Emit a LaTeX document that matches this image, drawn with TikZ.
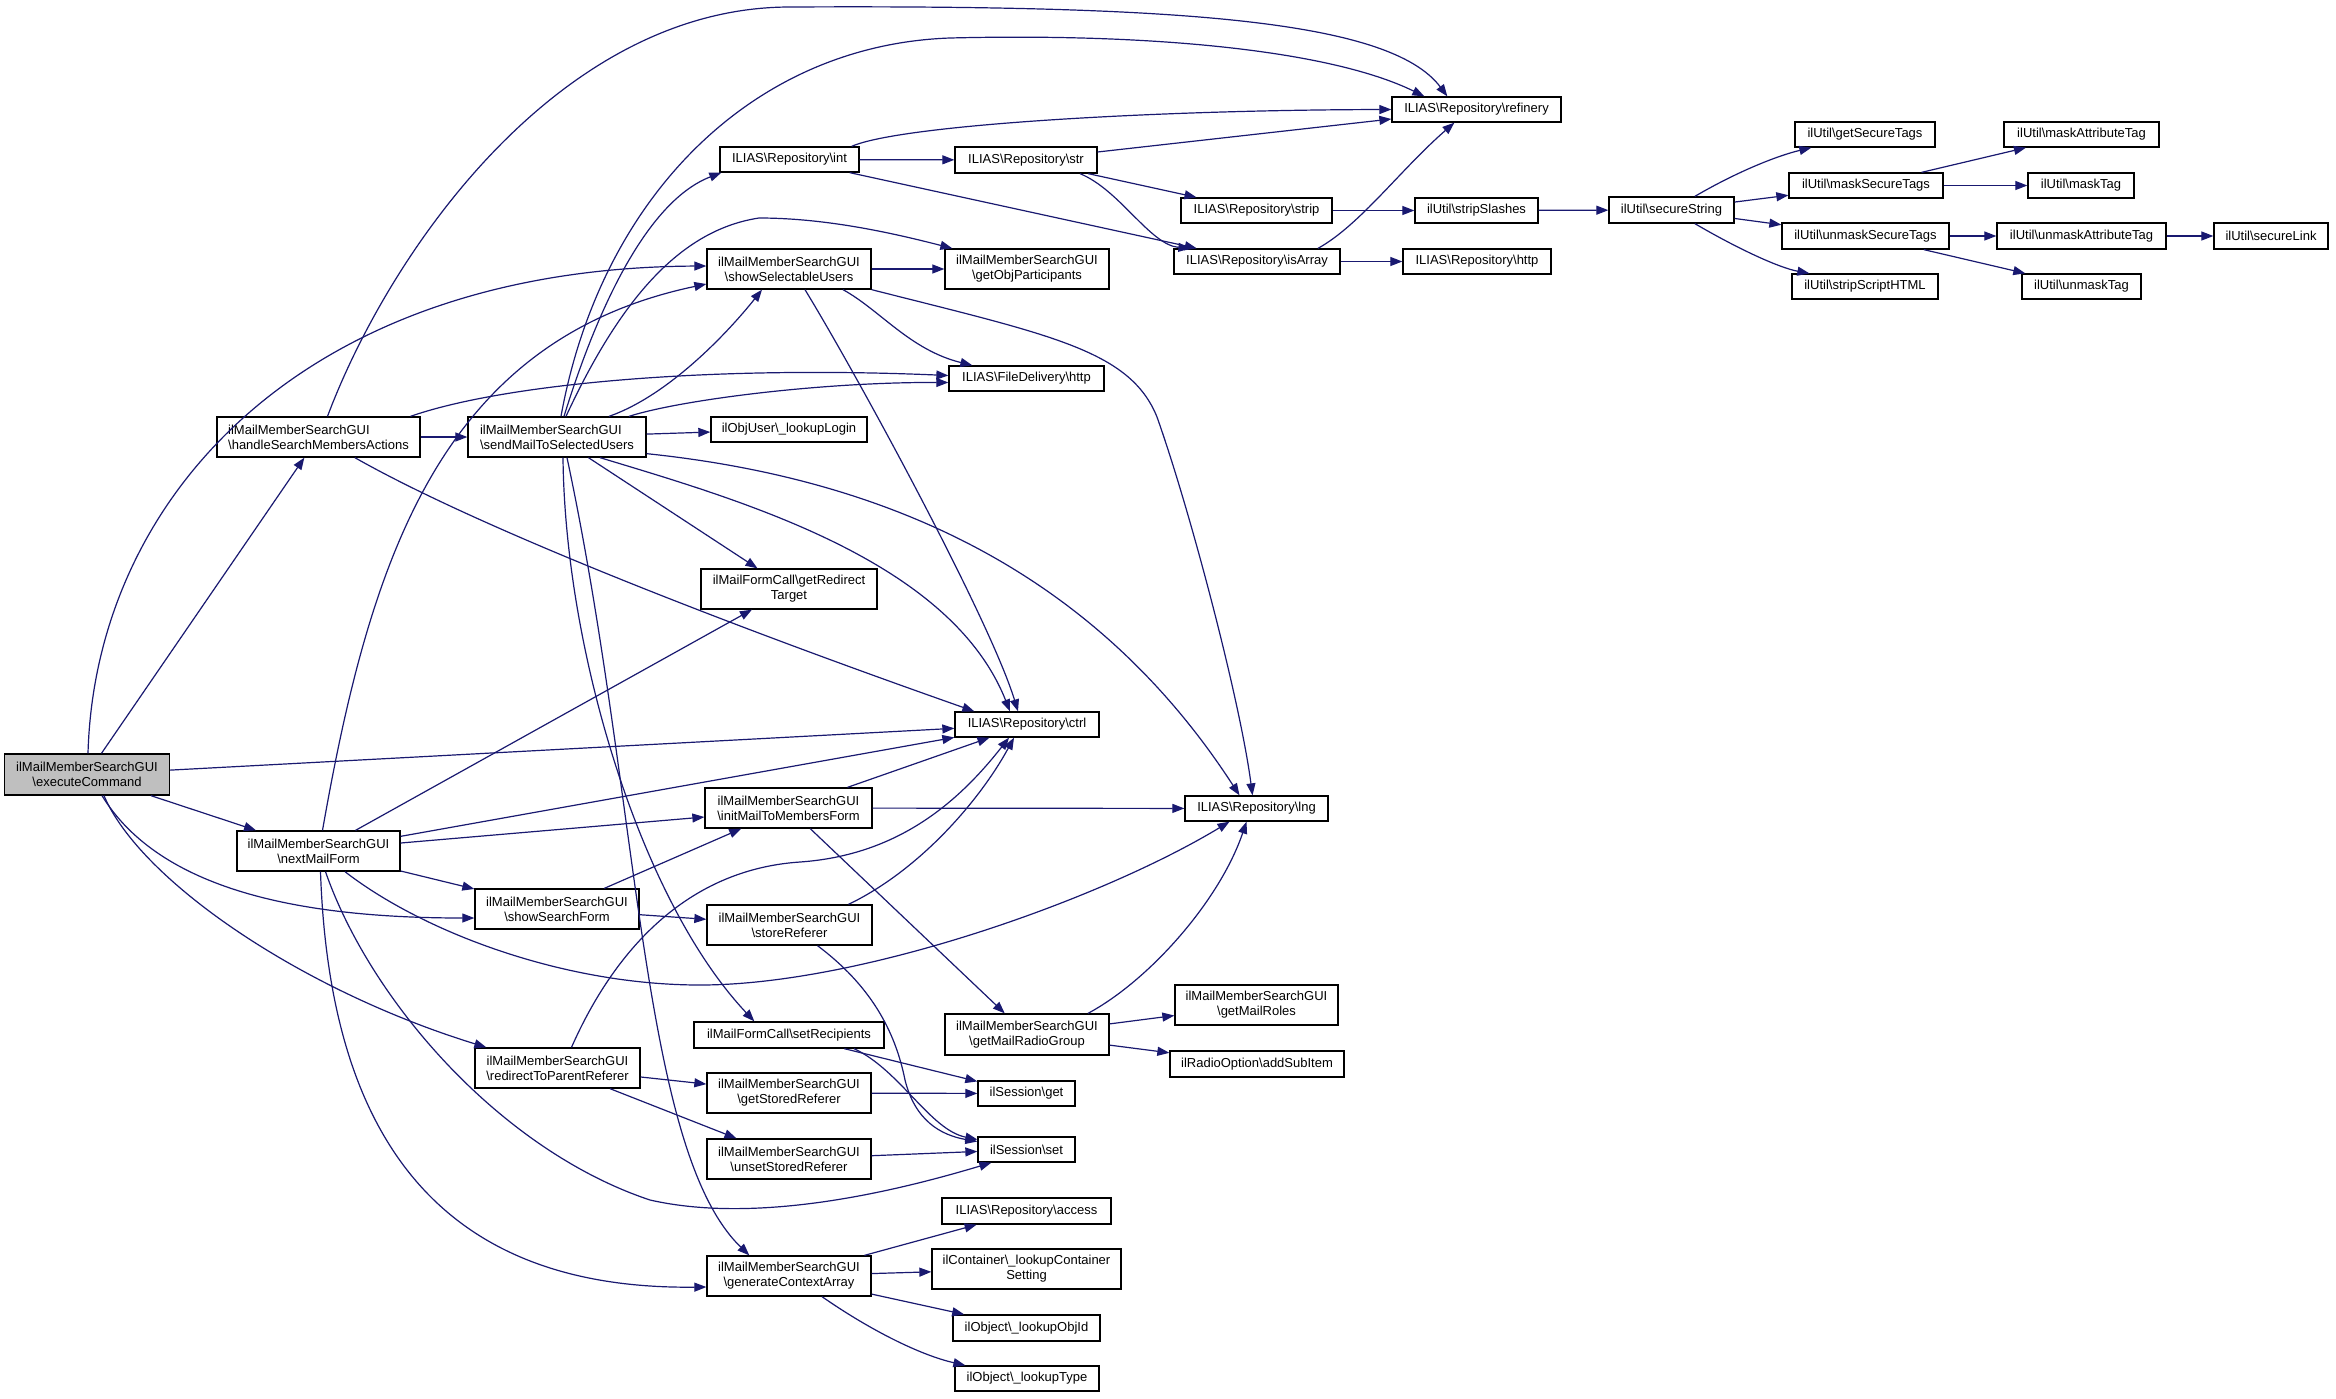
\documentclass[tikz,border=0pt]{standalone}
\usepackage{fontspec}
\setmainfont{Liberation Sans}
\usetikzlibrary{arrows.meta,calc}
\definecolor{edgeblue}{HTML}{191970}
\definecolor{exfill}{HTML}{BFBFBF}
\newcommand{\bsl}{\textbackslash}
\begin{document}
\begin{tikzpicture}[x=1pt,y=-1pt,
  box/.style={draw=black,line width=1.3pt,fill=white,inner sep=0pt,align=center,font=\fontsize{13}{15}\selectfont},
  edge/.style={draw=edgeblue,line width=1.2pt,-{Triangle[length=12pt,width=9pt]}}]
\fill[white] (0,0) rectangle (2336,1398);
\useasboundingbox (0,0) rectangle (2336,1398);
% nodes
\node[box,fill=exfill,minimum width=165pt,minimum height=41pt] (ex) at (87,774.5) {ilMailMemberSearchGUI\\\bsl executeCommand};
\node[box,align=left,minimum width=203pt,minimum height=40pt] (hs) at (318.5,437) {ilMailMemberSearchGUI\\\bsl handleSearchMembersActions};
\node[box,align=left,minimum width=178pt,minimum height=40pt] (sm) at (557,437) {ilMailMemberSearchGUI\\\bsl sendMailToSelectedUsers};
\node[box,minimum width=163pt,minimum height=40pt] (nm) at (318.5,851) {ilMailMemberSearchGUI\\\bsl nextMailForm};
\node[box,minimum width=164pt,minimum height=40pt] (ssf) at (557,909) {ilMailMemberSearchGUI\\\bsl showSearchForm};
\node[box,minimum width=165pt,minimum height=40pt] (rp) at (557.5,1068) {ilMailMemberSearchGUI\\\bsl redirectToParentReferer};
\node[box,minimum width=139pt,minimum height=25pt] (int) at (789.5,159.5) {ILIAS\bsl Repository\bsl int};
\node[box,minimum width=164pt,minimum height=40pt] (ssu) at (789,269) {ilMailMemberSearchGUI\\\bsl showSelectableUsers};
\node[box,minimum width=156pt,minimum height=25pt] (ll) at (789,429.5) {ilObjUser\bsl\_lookupLogin};
\node[box,minimum width=169pt,minimum height=25pt] (ref) at (1476.5,109.5) {ILIAS\bsl Repository\bsl refinery};
\node[box,minimum width=142pt,minimum height=26pt] (str) at (1026,160) {ILIAS\bsl Repository\bsl str};
\node[box,minimum width=151pt,minimum height=25pt] (strip) at (1256.5,210.5) {ILIAS\bsl Repository\bsl strip};
\node[box,minimum width=123pt,minimum height=25pt] (ss) at (1476.5,210.5) {ilUtil\bsl stripSlashes};
\node[box,minimum width=166pt,minimum height=25pt] (isa) at (1257,261.5) {ILIAS\bsl Repository\bsl isArray};
\node[box,minimum width=148pt,minimum height=25pt] (rh) at (1477,261.5) {ILIAS\bsl Repository\bsl http};
\node[box,minimum width=164pt,minimum height=40pt] (gop) at (1027,269) {ilMailMemberSearchGUI\\\bsl getObjParticipants};
\node[box,minimum width=155pt,minimum height=25pt] (fd) at (1026.5,378.5) {ILIAS\bsl FileDelivery\bsl http};
\node[box,minimum width=125pt,minimum height=26pt] (sec) at (1671.5,210) {ilUtil\bsl secureString};
\node[box,minimum width=140pt,minimum height=25pt] (gst) at (1865,134.5) {ilUtil\bsl getSecureTags};
\node[box,minimum width=154pt,minimum height=25pt] (mst) at (1866,185.5) {ilUtil\bsl maskSecureTags};
\node[box,minimum width=167pt,minimum height=26pt] (umst) at (1865.5,236) {ilUtil\bsl unmaskSecureTags};
\node[box,minimum width=146pt,minimum height=25pt] (ssh) at (1865,286.5) {ilUtil\bsl stripScriptHTML};
\node[box,minimum width=155pt,minimum height=25pt] (mat) at (2081.5,134.5) {ilUtil\bsl maskAttributeTag};
\node[box,minimum width=106pt,minimum height=25pt] (mt) at (2081,185.5) {ilUtil\bsl maskTag};
\node[box,minimum width=169pt,minimum height=26pt] (umat) at (2081.5,236) {ilUtil\bsl unmaskAttributeTag};
\node[box,minimum width=114pt,minimum height=26pt] (sl) at (2271,236) {ilUtil\bsl secureLink};
\node[box,minimum width=119pt,minimum height=25pt] (umt) at (2081.5,286.5) {ilUtil\bsl unmaskTag};
\node[box,minimum width=176pt,minimum height=40pt] (grt) at (789,589) {ilMailFormCall\bsl getRedirect\\Target};
\node[box,minimum width=144pt,minimum height=25pt] (ctrl) at (1027,724.5) {ILIAS\bsl Repository\bsl ctrl};
\node[box,minimum width=167pt,minimum height=40pt] (imf) at (788.5,808) {ilMailMemberSearchGUI\\\bsl initMailToMembersForm};
\node[box,minimum width=143pt,minimum height=25pt] (lng) at (1256.5,808.5) {ILIAS\bsl Repository\bsl lng};
\node[box,minimum width=165pt,minimum height=40pt] (sr) at (789.5,925) {ilMailMemberSearchGUI\\\bsl storeReferer};
\node[box,minimum width=190pt,minimum height=26pt] (srec) at (789,1035) {ilMailFormCall\bsl setRecipients};
\node[box,minimum width=164pt,minimum height=41pt] (gmrg) at (1027,1034.5) {ilMailMemberSearchGUI\\\bsl getMailRadioGroup};
\node[box,minimum width=163pt,minimum height=40pt] (gmr) at (1256.5,1005) {ilMailMemberSearchGUI\\\bsl getMailRoles};
\node[box,minimum width=174pt,minimum height=26pt] (asi) at (1257,1064) {ilRadioOption\bsl addSubItem};
\node[box,minimum width=164pt,minimum height=40pt] (gsr) at (789,1093) {ilMailMemberSearchGUI\\\bsl getStoredReferer};
\node[box,minimum width=97pt,minimum height=25pt] (sg) at (1026.5,1093.5) {ilSession\bsl get};
\node[box,minimum width=164pt,minimum height=40pt] (usr) at (789,1159) {ilMailMemberSearchGUI\\\bsl unsetStoredReferer};
\node[box,minimum width=97pt,minimum height=25pt] (sset) at (1026.5,1149.5) {ilSession\bsl set};
\node[box,minimum width=169pt,minimum height=26pt] (acc) at (1026.5,1211) {ILIAS\bsl Repository\bsl access};
\node[box,minimum width=189pt,minimum height=40pt] (lcs) at (1026.5,1269) {ilContainer\bsl\_lookupContainer\\Setting};
\node[box,minimum width=164pt,minimum height=40pt] (gca) at (789,1276) {ilMailMemberSearchGUI\\\bsl generateContextArray};
\node[box,minimum width=147pt,minimum height=26pt] (loi) at (1026.5,1328) {ilObject\bsl\_lookupObjId};
\node[box,minimum width=144pt,minimum height=25pt] (lot) at (1027,1378.5) {ilObject\bsl\_lookupType};
% executeCommand
\draw[edge] (ex) -- (hs);
\draw[edge] ($(ex.north)+(1,0)$) .. controls (95,500) and (300,268) .. ($(ssu.west)+(0,-3)$);
\draw[edge] (ex) -- (ctrl);
\draw[edge] (ex) -- (nm);
\draw[edge] ($(ex.south)+(15,0)$) .. controls (160,890) and (300,918) .. ($(ssf.west)+(0,9)$);
\draw[edge] ($(ex.south)+(17,0)$) .. controls (140,880) and (300,990) .. ($(rp.north west)+(12,0)$);
% handleSearchMembersActions
\draw[edge] ($(hs.north)+(9,0)$) .. controls (390,250) and (560,7) .. (790,7) .. controls (1180,5) and (1390,20) .. ($(ref.north west)+(56,0)$);
\draw[edge] (hs) -- (sm);
\draw[edge] ($(hs.north)+(92,0)$) .. controls (500,385) and (700,365) .. ($(fd.west)+(0,-3)$);
\draw[edge] (hs) .. controls (500,540) and (800,650) .. ($(ctrl.north west)+(20,0)$);
% sendMailToSelectedUsers
\draw[edge] ($(sm.north)+(4,0)$) .. controls (600,200) and (750,45) .. (950,38) .. controls (1150,33) and (1330,50) .. ($(ref.north west)+(33,0)$);
\draw[edge] ($(sm.north)+(7,0)$) .. controls (600,300) and (650,200) .. ($(int.south west)+(2,0)$);
\draw[edge] ($(sm.north)+(9,0)$) .. controls (620,300) and (680,230) .. (759,218) .. controls (830,218) and (900,235) .. ($(gop.north west)+(8,0)$);
\draw[edge] ($(sm.north)+(52,0)$) .. controls (670,395) and (730,330) .. ($(ssu.south)+(-27,0)$);
\draw[edge] ($(sm.north)+(72,0)$) .. controls (680,400) and (820,382) .. ($(fd.west)+(0,4)$);
\draw[edge] (sm) -- (ll);
\draw[edge] ($(sm.south east)+(0,-4)$) .. controls (900,480) and (1100,580) .. ($(lng.north)+(-17,0)$);
\draw[edge] (sm) -- (grt);
\draw[edge] ($(sm.south)+(43,0)$) .. controls (740,500) and (950,560) .. ($(ctrl.north)+(-17,0)$);
\draw[edge] ($(sm.south)+(6,0)$) .. controls (565,650) and (640,900) .. ($(srec.north west)+(61,0)$);
\draw[edge] ($(sm.south)+(10,0)$) .. controls (640,800) and (640,1150) .. ($(gca.north west)+(43,0)$);
% showSelectableUsers
\draw[edge] (ssu) -- (gop);
\draw[edge] ($(ssu.south)+(54,0)$) .. controls (880,310) and (910,350) .. ($(fd.north west)+(24,0)$);
\draw[edge] ($(ssu.south)+(16,0)$) .. controls (860,380) and (990,620) .. ($(ctrl.north)+(-9,0)$);
\draw[edge] (ssu.south east) .. controls (1050,335) and (1130,350) .. (1157,417) .. controls (1190,510) and (1240,700) .. ($(lng.north)+(-4,0)$);
% int, str, isArray
\draw[edge] ($(int.north east)+(-8,0)$) .. controls (900,125) and (1150,110) .. (ref.west);
\draw[edge] (int) -- (str);
\draw[edge] (int) -- (isa);
\draw[edge] (str) -- (ref);
\draw[edge] (str) -- (strip);
\draw[edge] ($(str.south)+(54,0)$) .. controls (1120,190) and (1150,245) .. ($(isa.north west)+(17,0)$);
\draw[edge] ($(isa.north)+(61,0)$) .. controls (1360,225) and (1400,170) .. ($(ref.south west)+(63,0)$);
\draw[edge] (isa) -- (rh);
\draw[edge] (strip) -- (ss);
\draw[edge] (ss) -- (sec);
% secureString
\draw[edge] (sec) .. controls (1740,170) and (1780,155) .. ($(gst.south west)+(17,0)$);
\draw[edge] (sec) -- (mst);
\draw[edge] (sec) -- (umst);
\draw[edge] (sec) .. controls (1740,250) and (1780,268) .. ($(ssh.north west)+(18,0)$);
\draw[edge] (mst) -- (mat);
\draw[edge] (mst) -- (mt);
\draw[edge] (umst) -- (umat);
\draw[edge] (umst) -- (umt);
\draw[edge] (umat) -- (sl);
% nextMailForm
\draw[edge] ($(nm.north)+(4,0)$) .. controls (370,560) and (440,340) .. ($(ssu.west)+(0,15)$);
\draw[edge] (nm) -- (grt);
\draw[edge] (nm) -- (ctrl);
\draw[edge] ($(nm.east)+(0,-8)$) -- ($(imf.west)+(0,9)$);
\draw[edge] (nm) -- (ssf);
\draw[edge] (nm) .. controls (420,930) and (560,985) .. (700,985) .. controls (860,985) and (1100,900) .. ($(lng.south)+(-27,0)$);
\draw[edge] ($(nm.south)+(7,0)$) .. controls (370,1000) and (500,1150) .. (650,1200) .. controls (760,1225) and (900,1190) .. ($(sset.south west)+(14,0)$);
\draw[edge] ($(nm.south)+(2,0)$) .. controls (330,1150) and (450,1290) .. ($(gca.west)+(0,11)$);
% showSearchForm
\draw[edge] (ssf) -- (imf);
\draw[edge] (ssf) -- (sr);
% redirectToParentReferer
\draw[edge] ($(rp.north)+(14,0)$) .. controls (610,960) and (680,870) .. (800,862) .. controls (900,855) and (960,800) .. ($(ctrl.south)+(-18,0)$);
\draw[edge] (rp) -- (gsr);
\draw[edge] (rp) -- (usr);
% initMailToMembersForm
\draw[edge] (imf) -- (ctrl);
\draw[edge] (imf) -- (lng);
\draw[edge] (imf) -- (gmrg);
% storeReferer
\draw[edge] ($(sr.north)+(59,0)$) .. controls (920,870) and (980,800) .. ($(ctrl.south)+(-13,0)$);
\draw[edge] ($(sr.south)+(28,0)$) .. controls (870,985) and (895,1030) .. (905,1080) .. controls (915,1120) and (940,1135) .. ($(sset.west)+(0,-8)$);
% setRecipients
\draw[edge] (srec) -- (sg);
\draw[edge] ($(srec.south)+(65,0)$) .. controls (900,1070) and (930,1130) .. ($(sset.west)+(0,-10)$);
% stored referer
\draw[edge] (gsr) -- (sg);
\draw[edge] (usr) -- (sset);
% getMailRadioGroup
\draw[edge] (gmrg) -- (gmr);
\draw[edge] (gmrg) -- (asi);
\draw[edge] ($(gmrg.north)+(61,0)$) .. controls (1150,980) and (1220,900) .. ($(lng.south)+(-10,0)$);
% generateContextArray
\draw[edge] (gca) -- (acc);
\draw[edge] (gca) -- (lcs);
\draw[edge] (gca) -- (loi);
\draw[edge] ($(gca.south)+(33,0)$) .. controls (870,1330) and (920,1355) .. ($(lot.north west)+(11,0)$);
\end{tikzpicture}
\end{document}
